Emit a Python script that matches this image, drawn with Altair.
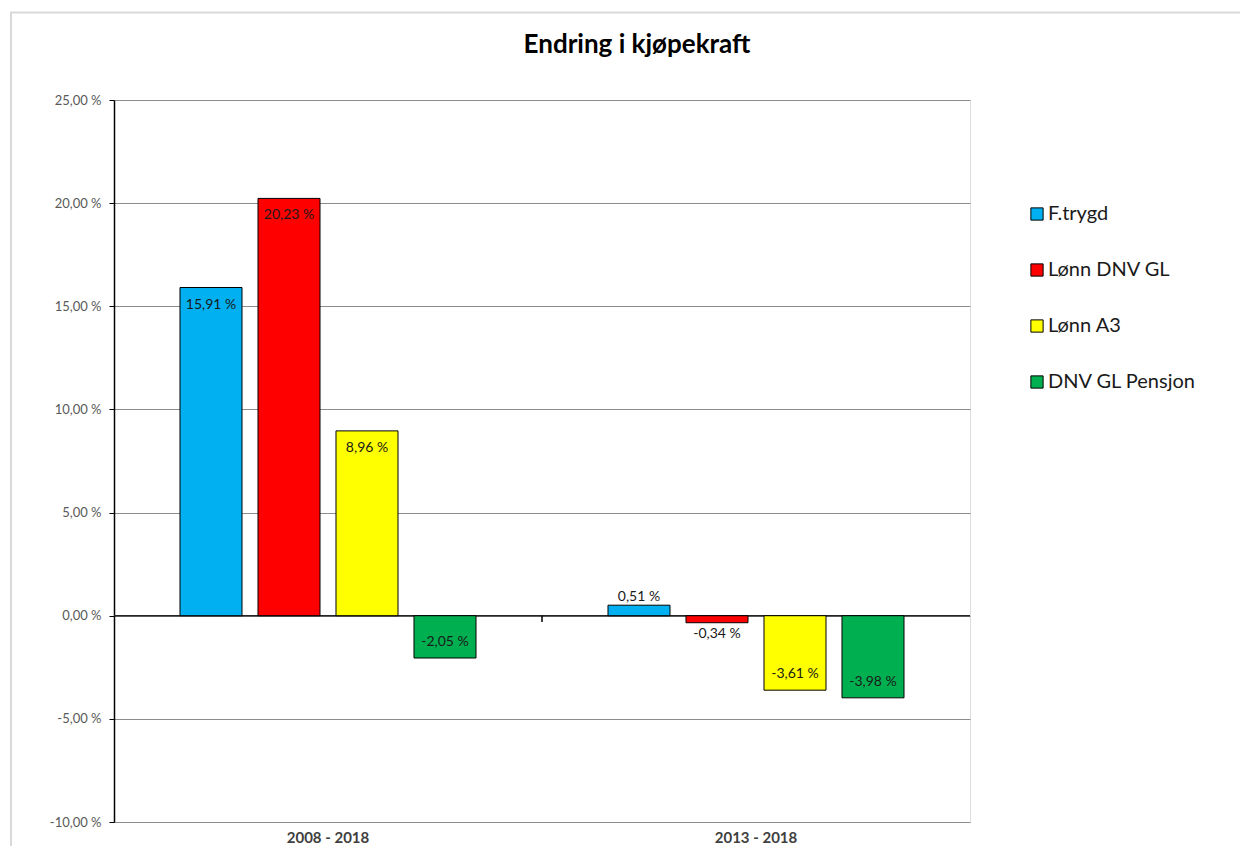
import altair as alt
import pandas as pd

title_text = "Endring i kjøpekraft"
categories = ["2008 - 2018", "2013 - 2018"]
series = ["F.trygd", "Lønn DNV GL", "Lønn A3", "DNV GL Pensjon"]
values_2008 = [15.91, 20.23, 8.96, -2.05]
values_2013 = [0.51, -0.34, -3.61, -3.98]
colors = ["#00B0F0", "#FF0000", "#FFFF00", "#00B050"]
y_ticks = [-10, -5, 0, 5, 10, 15, 20, 25]

rows = []
for cat, vals in zip(categories, [values_2008, values_2013]):
    for s, v in zip(series, vals):
        rows.append({"cat": cat, "serie": s, "value": v})
df = pd.DataFrame(rows)

FONT = "Lato"
W, H = 856, 722

lab_expr = "(datum.value < 0 ? '-' : '') + replace(format(abs(datum.value), '.2f'), '.', ',') + ' %'"

base = alt.Chart(df).transform_calculate(
    label="(datum.value < 0 ? '-' : '') + replace(format(abs(datum.value), '.2f'), '.', ',') + ' %'"
)

x_enc = alt.X(
    "cat:N",
    sort=categories,
    scale=alt.Scale(paddingInner=0, paddingOuter=0),
    axis=alt.Axis(
        title=None, ticks=False, domain=False, labelAngle=0,
        labelFont=FONT, labelFontSize=15, labelFontWeight="bold",
        labelColor="#404040", labelPadding=8,
    ),
)
xoff = alt.XOffset(
    "serie:N", sort=series,
    scale=alt.Scale(paddingInner=0.205, paddingOuter=0.846),
)
y_scale = alt.Scale(domain=[-10, 25], nice=False)

bars = base.mark_bar(stroke="black", strokeWidth=1).encode(
    x=x_enc,
    xOffset=xoff,
    y=alt.Y(
        "value:Q", scale=y_scale,
        axis=alt.Axis(
            title=None, values=y_ticks, labelExpr=lab_expr,
            labelFont=FONT, labelFontSize=13, labelColor="#595959",
            grid=True, gridColor="#8c8c8c", gridWidth=1,
            domain=True, domainColor="black", domainWidth=1.5,
            ticks=True, tickColor="black", tickSize=5, labelPadding=8,
        ),
    ),
    color=alt.Color(
        "serie:N", sort=series,
        scale=alt.Scale(domain=series, range=colors),
        legend=alt.Legend(
            title=None, orient="none", legendX=913, legendY=104,
            symbolType="square", symbolSize=150, symbolStrokeColor="black",
            symbolStrokeWidth=1, labelFont=FONT, labelFontSize=20,
            labelColor="#1a1a1a", rowPadding=36, labelOffset=1,
        ),
    ),
)

def label_layer(cond, dy):
    return base.transform_filter(cond).mark_text(
        font=FONT, fontSize=14, color="#1a1a1a", baseline="middle", dy=dy
    ).encode(
        x=alt.X("cat:N", sort=categories),
        xOffset=alt.XOffset("serie:N", sort=series),
        y=alt.Y("value:Q", scale=y_scale),
        text="label:N",
    )

lab_pos_in = label_layer("datum.value >= 1", 17)
lab_neg_in = label_layer("datum.value <= -1", -16)
lab_pos_out = label_layer("datum.value > 0 && datum.value < 1", -8)
lab_neg_out = label_layer("datum.value < 0 && datum.value > -1", 11)

zero = alt.Chart(pd.DataFrame({"z": [0]})).mark_rule(color="#262626", strokeWidth=1.5).encode(
    y=alt.Y("z:Q", scale=y_scale)
)
cat_tick = alt.Chart(pd.DataFrame({"c": [categories[1]], "a": [0.0], "b": [-0.3]})).mark_rule(
    color="black", strokeWidth=1.5
).encode(
    x=alt.X("c:N", sort=categories, bandPosition=0),
    y=alt.Y("a:Q", scale=y_scale),
    y2="b:Q",
)

frame_top = alt.Chart(pd.DataFrame({"k": [0]})).mark_rule(color="#d9d9d9", strokeWidth=2).encode(
    x=alt.value(-103), x2=alt.value(1140), y=alt.value(-87.5)
)
frame_left = alt.Chart(pd.DataFrame({"k": [0]})).mark_rule(color="#d9d9d9", strokeWidth=2).encode(
    x=alt.value(-103), y=alt.value(-88.5), y2=alt.value(760)
)

title = alt.Chart(pd.DataFrame({"t": [title_text]})).mark_text(
    font=FONT, fontSize=26, fontWeight="bold", color="black",
    align="center", baseline="middle",
).encode(
    x=alt.value(523), y=alt.value(-55), text="t:N"
)

chart = alt.layer(
    frame_top, frame_left, zero, bars, cat_tick,
    lab_pos_in, lab_neg_in, lab_pos_out, lab_neg_out, title,
).properties(
    width=W, height=H,
    autosize=alt.AutoSizeParams(type="none"),
    padding={"left": 106, "top": 92, "right": 270, "bottom": 30},
).configure_view(
    stroke="black", strokeWidth=1.5
).configure(background="white")

chart.save("out.html", embed_options={"renderer": "svg", "actions": False})
